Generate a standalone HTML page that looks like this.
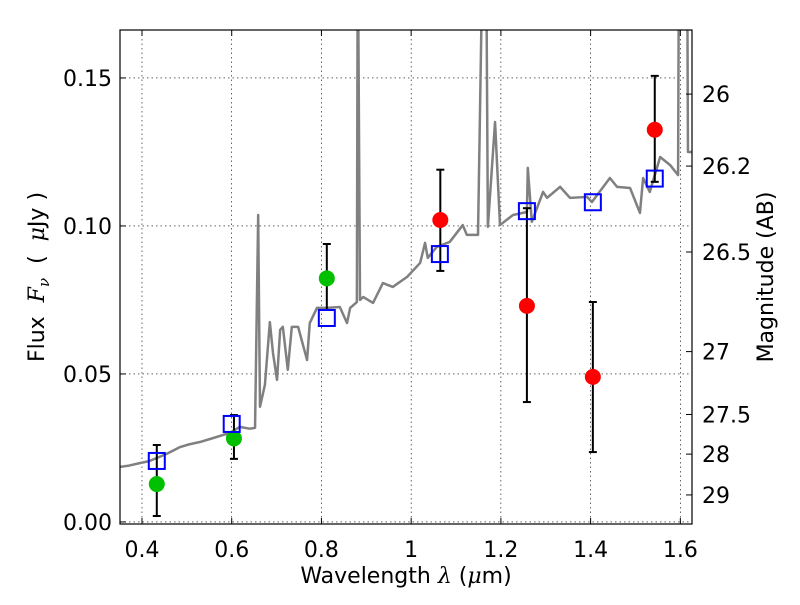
<!DOCTYPE html>
<html><head><meta charset="utf-8"><style>
body{margin:0;background:#fff}
svg text{font-family:"DejaVu Sans","Liberation Sans",sans-serif;fill:#000}
</style></head><body>
<svg id="chart" width="800" height="600" viewBox="0 0 800 600" xmlns="http://www.w3.org/2000/svg">
<rect width="800" height="600" fill="#fff"/>
<defs><clipPath id="clip"><rect x="120" y="30" width="572" height="494"/></clipPath></defs>
<g id="grid"></g>
<g id="spec" clip-path="url(#clip)"></g>
<g id="marks" clip-path="url(#clip)"></g>
<rect x="120" y="30" width="572" height="494" fill="none" stroke="#000" stroke-width="1.2"/>
<g id="axes"></g>
<text x="406" y="583" font-size="22" text-anchor="middle">Wavelength  <tspan font-style="italic" font-family="DejaVu Serif,serif">λ</tspan> (<tspan font-style="italic" font-family="DejaVu Serif,serif">μ</tspan>m)</text>
<text transform="translate(44,277) rotate(-90)" font-size="22" text-anchor="middle" xml:space="preserve">Flux  <tspan font-style="italic" font-family="DejaVu Serif,serif">F</tspan><tspan font-style="italic" font-size="15" dy="5" font-family="DejaVu Serif,serif">ν</tspan><tspan dy="-5">  (  </tspan><tspan font-style="italic" font-family="DejaVu Serif,serif">μ</tspan>Jy )</text>
<text transform="translate(773,277) rotate(-90)" font-size="22" text-anchor="middle">Magnitude (AB)</text>
</svg>
<script>
const xTicks=[0.4,0.6,0.8,1.0,1.2,1.4,1.6];
const xTickLabels=["0.4","0.6","0.8","1","1.2","1.4","1.6"];
const yTicks=[0,0.05,0.10,0.15];
const yTickLabels=["0.00","0.05","0.10","0.15"];
const magTicks=[26,26.2,26.5,27,27.5,28,29];
const magTickLabels=["26","26.2","26.5","27","27.5","28","29"];
const specWave=[0.351,0.370,0.396,0.415,0.433,0.455,0.485,0.505,0.529,0.560,0.596,0.618,0.640,0.652,0.659,0.663,0.674,0.685,0.692,0.701,0.708,0.714,0.725,0.734,0.748,0.768,0.774,0.790,0.812,0.841,0.857,0.864,0.879,0.881,0.886,0.893,0.915,0.937,0.959,0.991,1.020,1.031,1.037,1.057,1.086,1.115,1.124,1.149,1.160,1.167,1.171,1.187,1.198,1.227,1.258,1.260,1.269,1.294,1.303,1.332,1.354,1.392,1.403,1.443,1.459,1.488,1.510,1.517,1.532,1.555,1.577,1.595,1.597,1.615,1.617,1.626];
const specFlux=[0.0186,0.0190,0.0199,0.0205,0.0216,0.0230,0.0253,0.0262,0.0270,0.0284,0.0301,0.0321,0.0315,0.0318,0.1037,0.0389,0.0463,0.0675,0.0571,0.0480,0.0649,0.0659,0.0514,0.0659,0.0659,0.0547,0.0672,0.0723,0.0723,0.0726,0.0672,0.0723,0.0743,0.2,0.0750,0.0760,0.0740,0.0807,0.0794,0.0828,0.0875,0.0943,0.0892,0.0929,0.0946,0.1003,0.0970,0.0970,0.2,0.2,0.0997,0.1351,0.1003,0.1037,0.1047,0.1196,0.1014,0.1115,0.1095,0.1132,0.1095,0.1098,0.1081,0.1162,0.1132,0.1128,0.1044,0.1162,0.1115,0.1233,0.1206,0.1172,0.2,0.2,0.1250,0.1250];
const modelWave=[0.433,0.600,0.812,1.064,1.258,1.405,1.543];
const modelFlux=[0.0206,0.0331,0.0689,0.0905,0.1050,0.1080,0.1160];
const greenWave=[0.433,0.605,0.812];
const greenFlux=[0.0128,0.0282,0.0823];
const greenHi=[0.0260,0.0361,0.0939];
const greenLo=[0.0020,0.0213,0.0716];
const redWave=[1.065,1.258,1.405,1.543];
const redFlux=[0.1020,0.0730,0.0490,0.1325];
const redHi=[0.1190,0.1060,0.0743,0.1507];
const redLo=[0.0848,0.0405,0.0236,0.1149];

const X0=120,X1=692,Y0=524,Y1=30,xmin=0.351,xmax=1.626,ymin=-0.0007,ymax=0.1662;
const sx=v=>X0+(v-xmin)/(xmax-xmin)*(X1-X0);
const sy=v=>Y0-(v-ymin)/(ymax-ymin)*(Y0-Y1);
const NS="http://www.w3.org/2000/svg";
function mk(tag,attrs,parent){const e=document.createElementNS(NS,tag);for(const k in attrs)e.setAttribute(k,attrs[k]);parent.appendChild(e);return e;}
const grid=document.getElementById('grid'),axes=document.getElementById('axes'),spec=document.getElementById('spec'),marks=document.getElementById('marks');
xTicks.forEach((t,i)=>{const x=sx(t);
 const g=mk('line',{x1:x,x2:x,y1:Y1,y2:Y0,stroke:'#000','stroke-width':0.6,'stroke-dasharray':'1.5,3'},grid);
 
 
 mk('line',{x1:x,x2:x,y1:Y0,y2:Y0-6,stroke:'#000'},axes);
 mk('line',{x1:x,x2:x,y1:Y1,y2:Y1+6,stroke:'#000'},axes);
 const l=mk('text',{x:x,y:557,'font-size':22,'text-anchor':'middle'},axes);l.textContent=xTickLabels[i];
 
 });
yTicks.forEach((t,i)=>{const y=sy(t);
 const g=mk('line',{x1:X0,x2:X1,y1:y,y2:y,stroke:'#000','stroke-width':0.6,'stroke-dasharray':'1.5,3'},grid);
 
 
 mk('line',{x1:X0,x2:X0+6,y1:y,y2:y,stroke:'#000'},axes);
 const l=mk('text',{x:112,y:y+8,'font-size':22,'text-anchor':'end'},axes);l.textContent=yTickLabels[i];
 
 });
magTicks.forEach((m,i)=>{const y=sy(Math.pow(10,(23.9-m)/2.5));
 mk('line',{x1:X1,x2:X1-6,y1:y,y2:y,stroke:'#000'},axes);
 const l=mk('text',{x:702,y:y+8,'font-size':22},axes);l.textContent=magTickLabels[i];
 
 });
const p=mk('polyline',{points:specWave.map((w,i)=>sx(w)+','+sy(specFlux[i])).join(' '),fill:'none',stroke:'#808080','stroke-width':2.5,'stroke-linejoin':'round'},spec);


function errbar(w,lo,hi){const x=sx(w);
 mk('line',{x1:x,x2:x,y1:sy(lo),y2:sy(hi),stroke:'#000','stroke-width':2},marks);
 mk('line',{x1:x-4,x2:x+4,y1:sy(lo),y2:sy(lo),stroke:'#000','stroke-width':2},marks);
 mk('line',{x1:x-4,x2:x+4,y1:sy(hi),y2:sy(hi),stroke:'#000','stroke-width':2},marks);}
greenWave.forEach((w,i)=>{errbar(w,greenLo[i],greenHi[i]);
 const c=mk('circle',{cx:sx(w),cy:sy(greenFlux[i]),r:8,fill:'#00c000'},marks);
 
 });
redWave.forEach((w,i)=>{errbar(w,redLo[i],redHi[i]);
 const c=mk('circle',{cx:sx(w),cy:sy(redFlux[i]),r:8,fill:'#ff0000'},marks);
 
 });
modelWave.forEach((w,i)=>{
 const r=mk('rect',{x:sx(w)-8,y:sy(modelFlux[i])-8,width:16,height:16,fill:'none',stroke:'#0000ff','stroke-width':2},marks);
 
 });
</script>
</body></html>
